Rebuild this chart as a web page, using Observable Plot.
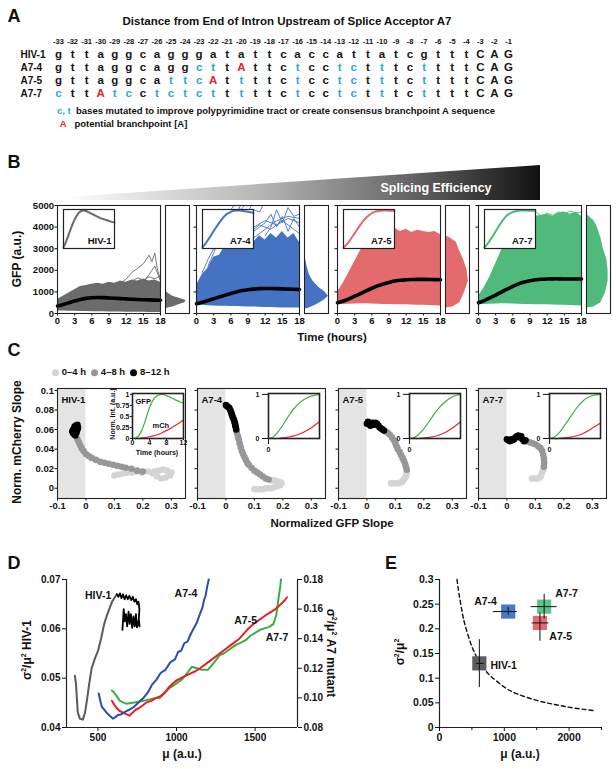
<!DOCTYPE html>
<html><head><meta charset="utf-8">
<script src="https://cdn.jsdelivr.net/npm/d3@7"></script>
<script src="https://cdn.jsdelivr.net/npm/@observablehq/plot@0.6"></script>
<style>
body{margin:0;background:#fff;}
#fig{position:relative;width:616px;height:769px;overflow:hidden;background:#fff;color:#111;
font-family:"Liberation Sans",Arial,Helvetica,sans-serif;font-weight:bold;}
#fig svg{overflow:visible;}
</style></head><body><div id="fig"></div>
<script>
// ---------------- DATA ----------------
// Panel A
const posLabels = [-33,-32,-31,-30,-29,-28,-27,-26,-25,-24,-23,-22,-21,-20,-19,-18,-17,-16,-15,-14,-13,-12,-11,-10,-9,-8,-7,-6,-5,-4,-3,-2,-1];
const rowNames = ["HIV-1","A7-4","A7-5","A7-7"];
const seqHIV1 = "g t t a g g c a g g g a t a t t c a c c a t t a t c g t t t C A G";
const seqA74  = "g t t a g g c a g g c t t A t t c t c c t c t t t c t t t t C A G";
const seqA75  = "g t t a g g c a t t c A t t t t c t c c t c t t t c t t t t C A G";
const seqA77  = "c t t A t c c t c t c t t t t t c t c c t c t t t c t t t t C A G";
const colHIV1 = "k k k k k k k k k k k k k k k k k k k k k k k k k k k k k k k k k";
const colA74  = "k k k k k k k k k k b b k r k k k b k k b b k b k k b k k k k k k";
const colA75  = "k k k k k k k k b b b r k b k k k b k k b b k b k k b k k k k k k";
const colA77  = "b k k r b b k b b b b b k b k k k b k k b b k b k k b k k k k k k";

// Panel B: time grid (h) and envelopes / means (GFP a.u.)
const bTimes = [0,1,2,3,4,5,6,7,8,9,10,11,12,13,14,15,16,17,18];
const hivHi  = [650,800,950,1100,1250,1300,1350,1400,1350,1450,1400,1500,1450,1550,1500,1600,1500,1550,1450];
const hivLo  = [120,110,100,100,90,90,80,80,80,70,70,70,60,60,60,60,50,50,50];
const hivMean= [350,420,500,580,650,700,730,740,735,720,705,690,675,660,650,640,630,620,615];
const a74Hi  = [1300,1800,2100,2600,2700,3100,3000,3300,3200,3500,3300,3600,3400,3700,3500,3800,3500,3700,3300];
const a74Lo  = [400,380,360,350,340,330,320,320,310,300,300,290,280,280,270,260,250,250,250];
const a74Mean= [450,520,600,680,770,850,930,1000,1060,1100,1130,1150,1155,1155,1150,1140,1130,1120,1110];
const a75Hi  = [1000,1400,1900,2400,2900,3300,3600,3800,3900,3850,3950,3800,3900,3750,3850,3800,3750,3800,3650];
const a75Lo  = [400,420,430,440,450,450,440,430,420,420,410,400,400,390,380,380,370,360,350];
const a75Mean= [500,580,680,800,920,1050,1170,1280,1370,1440,1500,1540,1560,1575,1580,1580,1575,1570,1565];
const a77Hi  = [800,1200,1700,2300,2900,3400,3800,4100,4300,4400,4500,4550,4600,4500,4650,4700,4600,4700,4500];
const a77Lo  = [400,420,430,440,450,450,440,430,420,420,410,400,400,390,380,380,370,360,350];
const a77Mean= [500,600,720,850,990,1130,1260,1370,1460,1520,1560,1585,1600,1605,1605,1600,1600,1600,1600];
// a few outlying single-cell traces [t, GFP]
const hivOut = [
  [[11,1400],[12,1600],[13,1900],[14,2100],[15,2300],[16,2700],[16.5,2400],[17,2800],[17.5,2000],[18,1600]],
  [[13,1500],[14,1650],[15,1550],[16,1700],[17,1600],[18,1750]],
  [[14,1300],[15,1450],[16,1800],[17,2200],[18,1500]]];
const a74Out = [
  [[2,2200],[3,2800],[4,3500],[5,4200],[6,4800],[7,5200]],
  [[3,2100],[4,2600],[5,3200],[6,3800],[7,4400],[8,4900],[9,5200]],
  [[5,2800],[6,3300],[7,3700],[8,4100],[9,4500],[10,4800],[11,4700],[12,5200]],
  [[6,3000],[8,3600],[10,4000],[12,4300],[14,4100],[16,4400],[18,4200]],
  [[8,3300],[10,3800],[12,4200],[13,4600],[14,4000],[15,4500],[16,3800],[17,4400],[18,4000]],
  [[10,3500],[12,3900],[14,4300],[16,4500],[18,4400]],
  [[4,2500],[5,3100],[6,3900],[7,4600],[8,5200]],
  [[12,3600],[13,4000],[14,4800],[15,4200],[16,4900],[17,4500],[18,4600]],
  [[1,1900],[2,2500],[3,3000],[4,3300],[5,3600],[6,4000],[7,4300],[8,4500],[9,4700],[10,5200]],
  [[7,3200],[9,3700],[11,4100],[13,3900],[15,4300],[17,3900],[18,3700]]];
const a77Out = [
  [[9,4400],[10,4700],[11,4500],[12,4650],[13,4550],[14,4700],[15,4600],[16,4750],[17,4650],[18,4700]]];
// end-point distributions [GFP, relative width]
const hivHist = [[200,0],[250,0.1],[300,0.3],[400,0.55],[500,0.8],[600,0.86],[700,0.6],[800,0.3],[900,0.15],[1000,0.05],[1100,0]];
const a74Hist = [[200,0],[250,0.2],[400,0.5],[600,0.8],[800,1.0],[1000,0.85],[1200,0.6],[1500,0.35],[1800,0.2],[2200,0.1],[2600,0.03],[3000,0]];
const a75Hist = [[250,0],[300,0.3],[500,0.6],[1000,0.8],[1500,0.95],[2000,0.9],[2500,0.75],[3000,0.55],[3300,0.45],[3500,0.2],[3600,0]];
const a77Hist = [[250,0],[300,0.3],[500,0.6],[1000,0.8],[1500,0.9],[2000,0.9],[2500,0.85],[3000,0.7],[3500,0.6],[4000,0.45],[4300,0.3],[4500,0.1],[4600,0]];
const bXTicks = [0,3,6,9,12,15,18];
const bYTicks = [0,1000,2000,3000,4000,5000];

// Panel C: [GFP slope, mCherry slope] per time window
const cHivE = [[0.10,0.013],[0.115,0.014],[0.13,0.015],[0.145,0.016],[0.16,0.016],[0.175,0.017],[0.195,0.016],[0.22,0.017],[0.235,0.015],[0.25,0.012],[0.265,0.01],[0.28,0.011],[0.295,0.013],[0.3,0.016],[0.285,0.018],[0.27,0.019],[0.255,0.018],[0.24,0.017]];
const cHivM = [[-0.03,0.05],[-0.025,0.047],[-0.02,0.044],[-0.015,0.041],[-0.008,0.038],[0.0,0.035],[0.01,0.033],[0.02,0.031],[0.035,0.029],[0.05,0.027],[0.065,0.026],[0.08,0.025],[0.095,0.024],[0.11,0.023],[0.125,0.022],[0.14,0.021],[0.16,0.02],[0.18,0.018],[0.2,0.017]];
const cHivL = [[-0.045,0.057],[-0.042,0.06],[-0.04,0.063],[-0.035,0.064],[-0.03,0.065],[-0.028,0.062],[-0.032,0.059],[-0.038,0.058],[-0.044,0.056],[-0.04,0.055],[-0.033,0.057],[-0.03,0.06],[-0.036,0.061],[-0.045,0.06],[-0.048,0.058],[-0.037,0.054]];
const cA74E = [[0.16,0.008],[0.17,0.008],[0.18,0.007],[0.19,0.006],[0.195,0.005],[0.19,0.003],[0.18,0.002],[0.17,0.001],[0.16,0.0],[0.15,0.0],[0.14,0.0],[0.13,-0.001],[0.12,-0.001],[0.11,-0.001],[0.1,-0.001]];
const cA74M = [[0.038,0.057],[0.042,0.053],[0.045,0.05],[0.048,0.046],[0.052,0.042],[0.056,0.038],[0.06,0.035],[0.065,0.032],[0.07,0.029],[0.075,0.026],[0.08,0.024],[0.09,0.021],[0.1,0.018],[0.11,0.016],[0.12,0.014],[0.13,0.012],[0.14,0.01],[0.15,0.009]];
const cA74L = [[0.0,0.085],[0.003,0.084],[0.008,0.083],[0.012,0.082],[0.015,0.08],[0.018,0.078],[0.02,0.076],[0.022,0.074],[0.025,0.072],[0.028,0.07],[0.03,0.068],[0.032,0.066],[0.033,0.064],[0.035,0.062],[0.036,0.06]];
const cA75E = [[0.14,0.016],[0.138,0.013],[0.135,0.011],[0.13,0.009],[0.125,0.007],[0.12,0.006],[0.11,0.005],[0.1,0.005],[0.09,0.005],[0.085,0.005]];
const cA75M = [[0.065,0.058],[0.072,0.057],[0.08,0.055],[0.088,0.052],[0.095,0.049],[0.1,0.046],[0.104,0.043],[0.108,0.04],[0.115,0.037],[0.12,0.034],[0.125,0.031],[0.13,0.028],[0.134,0.025],[0.137,0.022],[0.14,0.019]];
const cA75L = [[0.0,0.066],[0.004,0.068],[0.008,0.066],[0.012,0.064],[0.016,0.066],[0.02,0.067],[0.025,0.065],[0.03,0.067],[0.035,0.066],[0.04,0.064],[0.045,0.062],[0.05,0.061],[0.055,0.06],[0.06,0.059]];
const cA77E = [[0.128,0.019],[0.124,0.016],[0.12,0.013],[0.115,0.011],[0.108,0.01],[0.1,0.01],[0.092,0.01],[0.088,0.01]];
const cA77M = [[0.07,0.048],[0.08,0.047],[0.09,0.046],[0.1,0.045],[0.11,0.043],[0.118,0.041],[0.124,0.038],[0.128,0.034],[0.13,0.03],[0.131,0.026],[0.13,0.022]];
const cA77L = [[0.0,0.05],[0.005,0.049],[0.01,0.048],[0.015,0.05],[0.02,0.049],[0.025,0.05],[0.03,0.052],[0.035,0.053],[0.04,0.054],[0.045,0.052],[0.05,0.053],[0.055,0.05],[0.06,0.048],[0.065,0.049]];
const cXTicks = [-0.1,0,0.1,0.2,0.3];
const cYTicks = [0,0.02,0.04,0.06,0.08,0.1];
// insets: normalized intensity vs time (h)
const insT = [0,1,2,3,4,5,6,7,8,9,10,11,12];
const insHivG = [0,0.02,0.15,0.4,0.7,0.9,0.98,1.0,0.97,0.93,0.88,0.84,0.8];
const insHivR = [0,0,0.01,0.02,0.04,0.06,0.09,0.13,0.18,0.23,0.29,0.35,0.42];
const insA74G = [0,0.03,0.12,0.25,0.4,0.55,0.68,0.78,0.86,0.92,0.96,0.98,1.0];
const insA74R = [0,0,0,0.01,0.02,0.04,0.06,0.09,0.13,0.18,0.24,0.31,0.38];
const insA75G = [0,0.02,0.08,0.18,0.3,0.44,0.58,0.7,0.8,0.88,0.94,0.98,1.0];
const insA75R = [0,0,0,0.01,0.02,0.03,0.05,0.08,0.12,0.17,0.23,0.3,0.38];
const insA77G = [0,0.03,0.1,0.22,0.36,0.5,0.64,0.76,0.86,0.93,0.97,0.99,1.0];
const insA77R = [0,0,0,0.01,0.02,0.03,0.05,0.08,0.12,0.17,0.23,0.29,0.35];

// Panel D: [mean, noise]; HIV-1 on left axis, mutants on right axis
const dHivGray = [[353,0.0505],[360,0.049],[366,0.046],[372,0.043],[385,0.0418],[404,0.0416],[418,0.043],[430,0.0455],[445,0.049],[460,0.052],[481,0.054],[500,0.0555],[520,0.058],[540,0.061],[560,0.063],[590,0.0655],[620,0.067]];
const dHivBlack = [[620,0.067],[630,0.0665],[640,0.0672],[650,0.0662],[660,0.067],[670,0.066],[680,0.0668],[690,0.066],[700,0.0667],[712,0.0658],[722,0.0665],[732,0.0655],[742,0.066],[750,0.065],[758,0.0655],[764,0.064],[760,0.062],[765,0.0605],[755,0.0615],[748,0.0603],[742,0.063],[734,0.0605],[726,0.0625],[718,0.0602],[710,0.063],[702,0.061],[695,0.0635],[686,0.0605],[678,0.063],[670,0.0615],[664,0.064],[656,0.0598]];
const dA74 = [[505,0.103],[515,0.098],[525,0.094],[540,0.092],[555,0.09],[575,0.088],[595,0.086],[610,0.087],[630,0.0885],[650,0.089],[680,0.091],[700,0.092],[730,0.094],[760,0.097],[790,0.1],[820,0.104],[845,0.109],[870,0.112],[900,0.117],[930,0.119],[960,0.124],[990,0.126],[1010,0.131],[1030,0.132],[1050,0.137],[1070,0.138],[1090,0.143],[1110,0.147],[1130,0.151],[1150,0.157],[1165,0.161],[1175,0.166],[1185,0.169],[1195,0.175],[1205,0.18]];
const dA75 = [[589,0.098],[600,0.096],[620,0.093],[640,0.091],[660,0.09],[680,0.089],[700,0.088],[720,0.09],[740,0.092],[760,0.093],[787,0.095],[810,0.097],[840,0.098],[870,0.1],[895,0.101],[920,0.103],[950,0.107],[980,0.11],[1003,0.112],[1040,0.114],[1080,0.116],[1120,0.118],[1150,0.12],[1200,0.124],[1250,0.128],[1300,0.132],[1350,0.136],[1400,0.14],[1450,0.146],[1490,0.15],[1530,0.153],[1570,0.156],[1600,0.158],[1630,0.16],[1660,0.163],[1690,0.166],[1703,0.168]];
const dA77 = [[589,0.105],[600,0.104],[620,0.101],[640,0.098],[660,0.097],[684,0.096],[710,0.0965],[740,0.097],[787,0.098],[830,0.099],[870,0.1],[895,0.1],[930,0.104],[960,0.107],[1003,0.11],[1040,0.113],[1070,0.117],[1097,0.121],[1130,0.12],[1160,0.119],[1200,0.119],[1240,0.124],[1276,0.129],[1300,0.13],[1340,0.133],[1380,0.136],[1404,0.137],[1440,0.139],[1470,0.142],[1500,0.144],[1532,0.146],[1560,0.147],[1590,0.148],[1617,0.15],[1635,0.156],[1650,0.168],[1660,0.175],[1665,0.18]];
const dXTicks = [500,1000,1500];
const dLeftTicks = [0.04,0.05,0.06,0.07];
const dRightTicks = [0.08,0.10,0.12,0.14,0.16,0.18];

// Panel E
const eNames = ["HIV-1","A7-4","A7-5","A7-7"];
const eMu    = [615,1060,1550,1615];
const eCV    = [0.13,0.235,0.212,0.245];
const eMuLo  = [570,830,1430,1415];
const eMuHi  = [690,1200,1690,1815];
const eCVLo  = [0.081,0.228,0.175,0.22];
const eCVHi  = [0.178,0.243,0.232,0.27];
const eCurveMu = [270,300,350,400,500,600,700,800,1000,1200,1500,1800,2100,2400];
const eCurveCV = [0.30,0.272,0.234,0.205,0.164,0.137,0.117,0.103,0.082,0.068,0.055,0.046,0.039,0.034];
const eXTicks = [0,1000,2000];
const eYTicks = [0,0.05,0.1,0.15,0.2,0.25,0.3];

// ---------------- helpers ----------------
const fig = document.getElementById("fig");
const FONT = "Liberation Sans, Arial, Helvetica, sans-serif";
function place(node, x, y) { node.style.position="absolute"; node.style.left=x+"px"; node.style.top=y+"px"; fig.appendChild(node); return node; }
function txt(html, cx, cy, size, extra="") {
  const d = document.createElement("div");
  d.innerHTML = html;
  d.style.cssText = `position:absolute;left:${cx}px;top:${cy}px;white-space:nowrap;font-size:${size}px;font-weight:bold;line-height:1;transform:translate(-50%,-50%);${extra}`;
  fig.appendChild(d); return d;
}
function rtxt(html, cx, cy, size, deg) { return txt(html, cx, cy, size, `transform:translate(-50%,-50%) rotate(${deg}deg);`); }
function ltxt(html, x, cy, size, extra="") { return txt(html, x, cy, size, `transform:translate(0,-50%);${extra}`); }
function framed(opts, fx, fy, fw, fh, m=[0,0,0,0], fs=9) {
  const svg = Plot.plot({
    ...opts,
    width: fw + m[1] + m[3], height: fh + m[0] + m[2],
    marginTop: m[0], marginRight: m[1], marginBottom: m[2], marginLeft: m[3],
    style: {fontFamily: FONT, fontWeight: "bold", fontSize: fs + "px", background: "transparent", overflow: "visible", color: "#111"}
  });
  return place(svg, fx - m[3], fy - m[0]);
}
const toRows = (ts, vs) => ts.map((t, i) => ({t, v: vs[i]}));
const toPts = (arr) => arr.map(([x, y]) => ({x, y}));
const plain = d => String(d);

// ---------------- Panel A ----------------
txt("A", 14, 16, 18);
txt("Distance from End of Intron Upstream of Splice Acceptor A7", 287, 22, 11.5);
const seqs = [seqHIV1, seqA74, seqA75, seqA77];
const cols = [colHIV1, colA74, colA75, colA77];
const aColor = {k: "#151515", b: "#2aa8dc", r: "#e4262b"};
const aCells = [];
rowNames.forEach((row, r) => {
  const ch = seqs[r].split(" "), cc = cols[r].split(" ");
  ch.forEach((c, i) => aCells.push({row, pos: posLabels[i], ch: c, col: aColor[cc[i]]}));
});
framed({
  x: {domain: [-33, -1], axis: null},
  y: {type: "point", domain: rowNames, range: [54, 93], padding: 0, axis: null},
  color: {type: "identity"},
  marks: [
    Plot.text(posLabels, {x: d => d, text: d => String(d), frameAnchor: "top", dy: 38, fontSize: 7.5}),
    Plot.text(rowNames, {x: () => -33, y: d => d, text: d => d, textAnchor: "start", dx: -38, fontSize: 10}),
    Plot.text(aCells, {x: "pos", y: "row", text: "ch", fill: "col", fontSize: 11.5})
  ]
}, 58, 0, 450, 102);
ltxt('<span style="color:#2aa8dc">c, t</span>&nbsp; bases mutated to improve polypyrimidine tract or create consensus branchpoint A sequence', 57, 111, 9.5);
ltxt('<span style="color:#e4262b">&nbsp;A</span>&nbsp;&nbsp; potential branchpoint [A]', 57, 124, 9.5);

// ---------------- Panel B ----------------
txt("B", 14, 162, 18);
const wedge = document.createElement("div");
wedge.style.cssText = "width:478px;height:35px;background:linear-gradient(to right,#ffffff 0%,#b9b9b9 40%,#6d6d6d 70%,#111 100%);clip-path:polygon(0 92%,100% 0,100% 100%,0 100%);";
place(wedge, 62, 165);
txt("Splicing Efficiency", 436, 188, 12.5, "color:#fff;");

const bPanels = [
  {name: "HIV-1", color: "#6b6b6b", hi: hivHi, lo: hivLo, mean: hivMean, out: hivOut, hist: hivHist},
  {name: "A7-4", color: "#4473c4", hi: a74Hi, lo: a74Lo, mean: a74Mean, out: a74Out, hist: a74Hist},
  {name: "A7-5", color: "#e36b6d", hi: a75Hi, lo: a75Lo, mean: a75Mean, out: [], hist: a75Hist},
  {name: "A7-7", color: "#4fba7b", hi: a77Hi, lo: a77Lo, mean: a77Mean, out: a77Out, hist: a77Hist}
];
const bLefts = [57, 196, 337, 478];
const bTop = 205, bH = 108, bW = 103;
bPanels.forEach((p, i) => {
  const env = bTimes.map((t, k) => ({t, lo: p.lo[k], hi: p.hi[k]}));
  const mean = toRows(bTimes, p.mean);
  framed({
    x: {domain: [0, 18], label: null}, y: {domain: [0, 5000], label: null},
    marks: [
      Plot.areaY(env, {x: "t", y1: "lo", y2: "hi", fill: p.color, curve: "linear"}),
      ...p.out.map(o => Plot.line(toPts(o), {x: "x", y: "y", stroke: p.color, strokeWidth: 0.9, clip: true})),
      Plot.line(mean, {x: "t", y: "v", stroke: "#000", strokeWidth: 3.6, curve: "natural"}),
      Plot.axisX(bXTicks, {tickSize: 2.5, tickPadding: 1, label: null, tickFormat: plain}),
      Plot.axisY(bYTicks, {tickSize: 2.5, tickPadding: 1, label: null, tickFormat: i === 0 ? plain : (() => "")}),
      Plot.frame({stroke: "#222", strokeWidth: 1.1})
    ]
  }, bLefts[i], bTop, bW, bH, [0, 0, 16, 0], 9.5);
  // end-point distribution
  framed({
    x: {domain: [0, 1], axis: null}, y: {domain: [0, 5000], axis: null},
    marks: [
      Plot.areaX(toPts(p.hist), {y: "x", x: "y", fill: p.color, curve: "linear"}),
      Plot.frame({stroke: "#222", strokeWidth: 1.1})
    ]
  }, bLefts[i] + bW + 5, bTop, 24, bH);
  // inset: normalized mean trajectory
  framed({
    x: {domain: [0, 18], axis: null}, y: {axis: null, inset: 1},
    marks: [
      Plot.frame({fill: "#fff", stroke: null}),
      Plot.line(mean, {x: "t", y: "v", stroke: p.color, strokeWidth: 2, curve: "natural"}),
      Plot.text([p.name], {text: d => d, frameAnchor: "bottom-right", dx: -3, dy: -5, fontSize: 9.5}),
      Plot.frame({stroke: "#222", strokeWidth: 1.2})
    ]
  }, bLefts[i] + 6, 209, 51, 39);
});
rtxt("GFP (a.u.)", 17, 259, 12, -90);
txt("Time (hours)", 332, 338, 11.5);

// ---------------- Panel C ----------------
txt("C", 14, 350, 18);
const dotL = "#d4d4d4", dotM = "#979797", dotD = "#000";
ltxt(`<span style="display:inline-block;width:7px;height:7px;border-radius:50%;background:${dotL};vertical-align:-1px"></span> 0–4 h&nbsp; <span style="display:inline-block;width:7px;height:7px;border-radius:50%;background:${dotM};vertical-align:-1px"></span> 4–8 h&nbsp; <span style="display:inline-block;width:7px;height:7px;border-radius:50%;background:${dotD};vertical-align:-1px"></span> 8–12 h`, 52, 372, 9.5);
const cPanels = [
  {name: "HIV-1", e: cHivE, m: cHivM, l: cHivL, g: insHivG, r: insHivR},
  {name: "A7-4", e: cA74E, m: cA74M, l: cA74L, g: insA74G, r: insA74R},
  {name: "A7-5", e: cA75E, m: cA75M, l: cA75L, g: insA75G, r: insA75R},
  {name: "A7-7", e: cA77E, m: cA77M, l: cA77L, g: insA77G, r: insA77R}
];
const cLefts = [57, 197, 338, 478];
const cTop = 388, cH = 110, cW = 128;
const shade = [{x1: -0.1, x2: 0}];
cPanels.forEach((p, i) => {
  framed({
    x: {domain: [-0.1, 0.35], label: null}, y: {domain: [-0.0105, 0.102], label: null},
    marks: [
      Plot.rect(shade, {x1: "x1", x2: "x2", fill: "#e4e4e4"}),
      Plot.dot(toPts(p.e), {x: "x", y: "y", r: 3.3, fill: dotL}),
      Plot.dot(toPts(p.m), {x: "x", y: "y", r: 3.3, fill: dotM}),
      Plot.dot(toPts(p.l), {x: "x", y: "y", r: 3.3, fill: dotD}),
      Plot.text([p.name], {text: d => d, frameAnchor: "top-left", dx: 4, dy: 8, fontSize: 9.5}),
      Plot.axisX(cXTicks, {tickSize: 2.5, tickPadding: 1, label: null, tickFormat: plain}),
      Plot.axisY(cYTicks, {tickSize: 2.5, tickPadding: 1, label: null, tickFormat: i === 0 ? plain : (() => "")}),
      Plot.frame({stroke: "#222", strokeWidth: 1.1})
    ]
  }, cLefts[i], cTop, cW, cH, [0, 0, 14, 0], 9.5);
  const g = toRows(insT, p.g), r = toRows(insT, p.r);
  const ix = cLefts[i] + (i === 0 ? 75 : 71);
  framed({
    x: {domain: [0, 12], label: null}, y: {domain: [0, 1.02], label: null},
    marks: [
      Plot.frame({fill: "#fff", stroke: null}),
      Plot.line(g, {x: "t", y: "v", stroke: "#3cae3c", strokeWidth: 1.2, curve: "natural"}),
      Plot.line(r, {x: "t", y: "v", stroke: "#e8262a", strokeWidth: 1.2, curve: "natural"}),
      ...(i === 0 ? [
        Plot.axisX([0, 4, 8, 12], {tickSize: 2, tickPadding: 0, label: null, tickFormat: plain}),
        Plot.axisY([0, 0.25, 0.5, 0.75, 1], {tickSize: 2, tickPadding: 1, label: null, tickFormat: plain}),
        Plot.text(["GFP"], {text: d => d, frameAnchor: "top-left", dx: 3, dy: 5, fontSize: 7.5}),
        Plot.text(["mCh"], {text: d => d, frameAnchor: "left", dx: 20, dy: 10, fontSize: 7.5})
      ] : []),
      Plot.frame({stroke: "#222", strokeWidth: 1.6})
    ]
  }, ix, 393, 51, 45, [0, 0, 0, 0], 7);
});
rtxt("Norm. Int. (a.u.)", 112, 414, 7, -90);
txt("Time (hours)", 157, 452, 7);
rtxt("Norm. mCherry Slope", 17, 442, 12, -90);
txt("Normalized GFP Slope", 332, 524, 11.5);

// ---------------- Panel D ----------------
txt("D", 14, 563, 18);
const mutToLeft = v => 0.04 + (v - 0.08) * 0.3;
const mut = arr => arr.map(([x, y]) => ({x, y: mutToLeft(y)}));
framed({
  x: {domain: [300, 1770], label: null}, y: {domain: [0.04, 0.07], label: null},
  marks: [
    Plot.ruleX([300], {stroke: "#222", strokeWidth: 1.2}),
    Plot.ruleX([1770], {stroke: "#222", strokeWidth: 1.2}),
    Plot.ruleY([0.04], {stroke: "#222", strokeWidth: 1.2}),
    Plot.line(toPts(dHivGray), {x: "x", y: "y", stroke: "#5a5a5a", strokeWidth: 2}),
    Plot.line(toPts(dHivBlack), {x: "x", y: "y", stroke: "#000", strokeWidth: 1.8}),
    Plot.line(mut(dA77), {x: "x", y: "y", stroke: "#35b040", strokeWidth: 2}),
    Plot.line(mut(dA75), {x: "x", y: "y", stroke: "#ec1c24", strokeWidth: 2}),
    Plot.line(mut(dA74), {x: "x", y: "y", stroke: "#2a4db0", strokeWidth: 2}),
    Plot.text([{x: 585, y: 0.0668, t: "HIV-1"}], {x: "x", y: "y", text: "t", textAnchor: "end", fontSize: 10.5}),
    Plot.text([{x: 1060, y: 0.0672, t: "A7-4"}], {x: "x", y: "y", text: "t", fontSize: 10.5}),
    Plot.text([{x: 1440, y: 0.0617, t: "A7-5"}], {x: "x", y: "y", text: "t", fontSize: 10.5}),
    Plot.text([{x: 1640, y: 0.0582, t: "A7-7"}], {x: "x", y: "y", text: "t", fontSize: 10.5}),
    Plot.axisX(dXTicks, {tickSize: 4, tickPadding: 2, label: null, tickFormat: plain}),
    Plot.axisY(dLeftTicks, {tickSize: 4, tickPadding: 2, label: null, tickFormat: d => d.toFixed(2)}),
    Plot.axisY(dRightTicks.map(mutToLeft), {anchor: "right", tickSize: 4, tickPadding: 2, label: null, tickFormat: d => ((d - 0.04) / 0.3 + 0.08).toFixed(2)})
  ]
}, 66, 579, 231, 148, [0, 0, 0, 0], 10);
rtxt("σ<sup style='font-size:7px'>2</sup>/μ<sup style='font-size:7px'>2</sup> HIV-1", 26, 650, 12, -90);
rtxt("σ<sup style='font-size:7px'>2</sup>/μ<sup style='font-size:7px'>2</sup> A7 mutant", 331, 653, 12, 90);
txt("μ (a.u.)", 182, 754, 12);

// ---------------- Panel E ----------------
txt("E", 391, 563, 18);
const eRows = eNames.map((n, i) => ({n, mu: eMu[i], cv: eCV[i], mlo: eMuLo[i], mhi: eMuHi[i], clo: eCVLo[i], chi: eCVHi[i]}));
const eColors = {"HIV-1": "#5e5e5e", "A7-4": "#4a78c8", "A7-5": "#e56a6f", "A7-7": "#5cc38b"};
framed({
  x: {domain: [0, 2500], label: null}, y: {domain: [0, 0.3], label: null},
  color: {type: "identity"},
  marks: [
    Plot.ruleX([0], {stroke: "#222", strokeWidth: 1.2}),
    Plot.ruleY([0], {stroke: "#222", strokeWidth: 1.2}),
    Plot.line(toRows(eCurveMu, eCurveCV), {x: "t", y: "v", stroke: "#111", strokeWidth: 1.4, strokeDasharray: "4,3", curve: "natural"}),
    Plot.dot(eRows, {x: "mu", y: "cv", symbol: "square", r: 8, fill: d => eColors[d.n]}),
    Plot.ruleX(eRows, {x: "mu", y1: "clo", y2: "chi", stroke: "#111", strokeWidth: 1}),
    Plot.ruleY(eRows, {y: "cv", x1: "mlo", x2: "mhi", stroke: "#111", strokeWidth: 1}),
    Plot.text([{x: 710, y: 0.256, t: "A7-4"}], {x: "x", y: "y", text: "t", fontSize: 10.5}),
    Plot.text([{x: 1960, y: 0.272, t: "A7-7"}], {x: "x", y: "y", text: "t", fontSize: 10.5}),
    Plot.text([{x: 1870, y: 0.185, t: "A7-5"}], {x: "x", y: "y", text: "t", fontSize: 10.5}),
    Plot.text([{x: 787, y: 0.126, t: "HIV-1"}], {x: "x", y: "y", text: "t", textAnchor: "start", fontSize: 10.5}),
    Plot.axisX(eXTicks, {tickSize: 4, tickPadding: 2, label: null, tickFormat: plain}),
    Plot.axisX([500, 1500, 2500], {tickSize: 3, label: null, tickFormat: () => ""}),
    Plot.axisY(eYTicks, {tickSize: 4, tickPadding: 2, label: null, tickFormat: plain})
  ]
}, 439, 579, 162, 148, [0, 0, 0, 0], 10.5);
rtxt("σ<sup style='font-size:7px'>2</sup>/μ<sup style='font-size:7px'>2</sup>", 399, 652, 12, -90);
txt("μ (a.u.)", 520, 754, 12);
</script></body></html>
